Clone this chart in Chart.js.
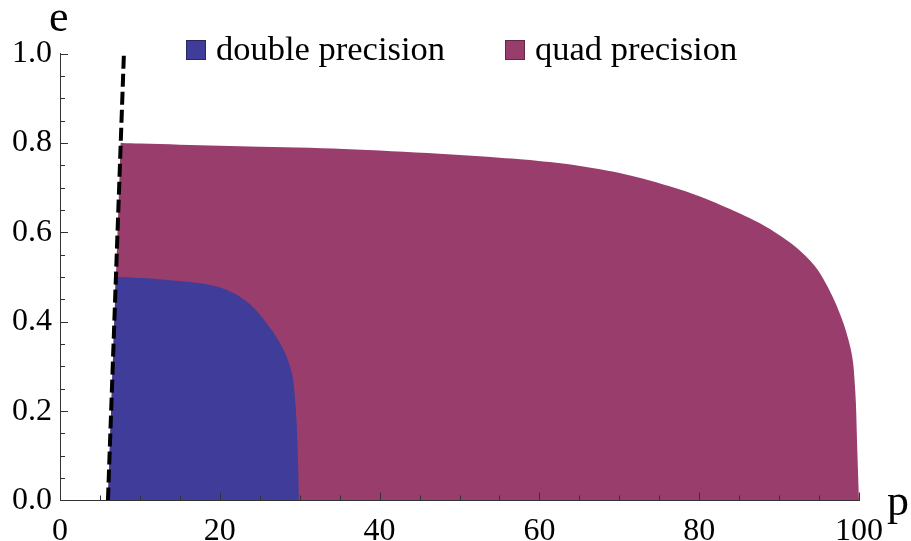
<!DOCTYPE html>
<html>
<head>
<meta charset="utf-8">
<script src="https://cdn.jsdelivr.net/npm/chart.js@4/dist/chart.umd.min.js"></script>
<style>
  html, body { margin: 0; padding: 0; background: #ffffff; }
  #wrap { width: 911px; height: 541px; }
</style>
</head>
<body>
<div id="wrap"><canvas id="c" width="911" height="541"></canvas></div>
<script>
// Separatrix p = 6 + 2e (dashed boundary)
const separatrixP = [6, 8];
const separatrixE = [0, 1];

// Region reachable in double precision
const doubleP = [6, 6.9, 7, 7.15, 9, 11, 13, 15, 17, 19, 20.5, 21.5, 22.5, 23.5, 24.25, 25, 26, 27, 27.8, 28.4, 28.9, 29.2, 29.45, 29.6, 29.72, 29.82, 29.88, 29.9];
const doubleE = [0, 0.45, 0.5, 0.5, 0.499, 0.497, 0.494, 0.491, 0.487, 0.4815, 0.4735, 0.466, 0.456, 0.443, 0.431, 0.416, 0.393, 0.368, 0.343, 0.32, 0.293, 0.268, 0.22, 0.18, 0.13, 0.07, 0.02, 0];

// Region reachable in quad precision
const quadP = [6, 7.5, 7.6, 7.75, 10, 15, 20, 25, 31.3, 37, 43, 49, 55, 58, 61.3, 64.5, 67.6, 70.7, 73.8, 77, 80.1, 82.6, 85.1, 87.6, 90.1, 91.36, 92.62, 93.87, 94.87, 95.96, 97.0, 97.62, 98.25, 98.87, 99.25, 99.44, 99.62, 99.75, 99.87, 99.95, 100];
const quadE = [0, 0.75, 0.8, 0.8, 0.7985, 0.796, 0.7935, 0.7915, 0.789, 0.785, 0.78, 0.774, 0.767, 0.763, 0.757, 0.75, 0.741, 0.73, 0.716, 0.699, 0.68, 0.6615, 0.642, 0.62, 0.593, 0.577, 0.559, 0.537, 0.515, 0.482, 0.444, 0.417, 0.386, 0.346, 0.31, 0.27, 0.214, 0.135, 0.068, 0.025, 0];

const seriesNames = ['double precision', 'quad precision'];
const seriesColors = ['rgb(63,61,153)', 'rgb(153,61,109)'];

const xTickValues = [0, 20, 40, 60, 80, 100];
const xTickLabels = ['0', '20', '40', '60', '80', '100'];
const yTickValues = [0, 0.2, 0.4, 0.6, 0.8, 1.0];
const yTickLabels = ['0.0', '0.2', '0.4', '0.6', '0.8', '1.0'];

const SERIF = "'Liberation Serif', serif";
const AXIS_COLOR = '#333333';

const toPoints = (xs, ys) => xs.map((v, i) => ({ x: v, y: ys[i] }));

// Inward tick marks, legend and axis letters
const decor = {
  id: 'decor',
  afterDatasetsDraw(chart) {
    const { ctx, chartArea: a, scales: { x, y } } = chart;
    ctx.save();
    ctx.strokeStyle = AXIS_COLOR;
    ctx.lineWidth = 1;
    ctx.beginPath();
    for (let k = 1; k <= 20; k++) {
      const px = Math.round(x.getPixelForValue(k * 5)) + 0.5;
      const len = (k % 4 === 0) ? 8 : 5;
      ctx.moveTo(px, a.bottom);
      ctx.lineTo(px, a.bottom - len);
    }
    for (let k = 1; k <= 20; k++) {
      const py = Math.round(y.getPixelForValue(k * 0.05)) + 0.5;
      const len = (k % 4 === 0) ? 8 : 5;
      ctx.moveTo(a.left, py);
      ctx.lineTo(a.left + len, py);
    }
    ctx.stroke();
    ctx.restore();
  },
  afterDraw(chart) {
    const { ctx } = chart;
    ctx.save();
    // legend
    const legendX = [186, 505];
    const box = 20;
    const boxTop = 40;
    ctx.font = '34.5px ' + SERIF;
    ctx.textBaseline = 'middle';
    ctx.textAlign = 'left';
    chart.data.datasets.forEach((ds) => {
      if (ds.legendIndex === undefined) return;
      const bx = legendX[ds.legendIndex];
      ctx.fillStyle = ds.backgroundColor;
      ctx.fillRect(bx, boxTop, box, box);
      ctx.strokeStyle = 'rgba(0,0,0,0.35)';
      ctx.lineWidth = 1;
      ctx.strokeRect(bx + 0.5, boxTop + 0.5, box - 1, box - 1);
      ctx.fillStyle = '#000';
      ctx.fillText(ds.label, bx + box + 10, boxTop + box / 2 + 1);
    });
    // axis letters
    ctx.font = '44px ' + SERIF;
    ctx.textBaseline = 'alphabetic';
    ctx.fillStyle = '#000';
    ctx.fillText('e', 49, 31);
    ctx.fillText('p', 887, 515);
    ctx.restore();
  }
};

new Chart(document.getElementById('c'), {
  type: 'line',
  data: {
    datasets: [
      {
        label: 'separatrix',
        data: toPoints(separatrixP, separatrixE),
        borderColor: '#000',
        borderWidth: 4,
        borderDash: [13, 5],
        borderCapStyle: 'butt',
        pointRadius: 0,
        fill: false,
        clip: false
      },
      {
        label: seriesNames[0],
        legendIndex: 0,
        data: toPoints(doubleP, doubleE),
        backgroundColor: seriesColors[0],
        borderColor: 'transparent',
        borderWidth: 0,
        pointRadius: 0,
        tension: 0.35,
        fill: 'origin'
      },
      {
        label: seriesNames[1],
        legendIndex: 1,
        data: toPoints(quadP, quadE),
        backgroundColor: seriesColors[1],
        borderColor: 'transparent',
        borderWidth: 0,
        pointRadius: 0,
        tension: 0.35,
        fill: 'origin'
      }
    ]
  },
  options: {
    responsive: false,
    animation: false,
    events: [],
    layout: { padding: { top: 53.5, right: 52, bottom: 0, left: 0 } },
    plugins: {
      legend: { display: false },
      tooltip: { enabled: false }
    },
    scales: {
      x: {
        type: 'linear',
        min: 0,
        max: 100,
        afterBuildTicks: (s) => { s.ticks = xTickValues.map(v => ({ value: v })); },
        afterFit: (s) => { s.height = 40.5; },
        grid: { display: false, drawTicks: false },
        border: { display: true, color: AXIS_COLOR, width: 1, z: 1 },
        ticks: {
          padding: 12,
          maxRotation: 0,
          autoSkip: false,
          color: '#000',
          font: { family: SERIF, size: 32 },
          callback: (v) => xTickLabels[xTickValues.indexOf(v)]
        }
      },
      y: {
        type: 'linear',
        min: 0,
        max: 1,
        afterBuildTicks: (s) => { s.ticks = yTickValues.map(v => ({ value: v })); },
        afterFit: (s) => { s.width = 60; },
        grid: { display: false, drawTicks: false },
        border: { display: true, color: AXIS_COLOR, width: 1, z: 1 },
        ticks: {
          padding: 8,
          autoSkip: false,
          color: '#000',
          font: { family: SERIF, size: 32 },
          callback: (v) => yTickLabels[yTickValues.indexOf(v)]
        }
      }
    }
  },
  plugins: [decor]
});
</script>
</body>
</html>
